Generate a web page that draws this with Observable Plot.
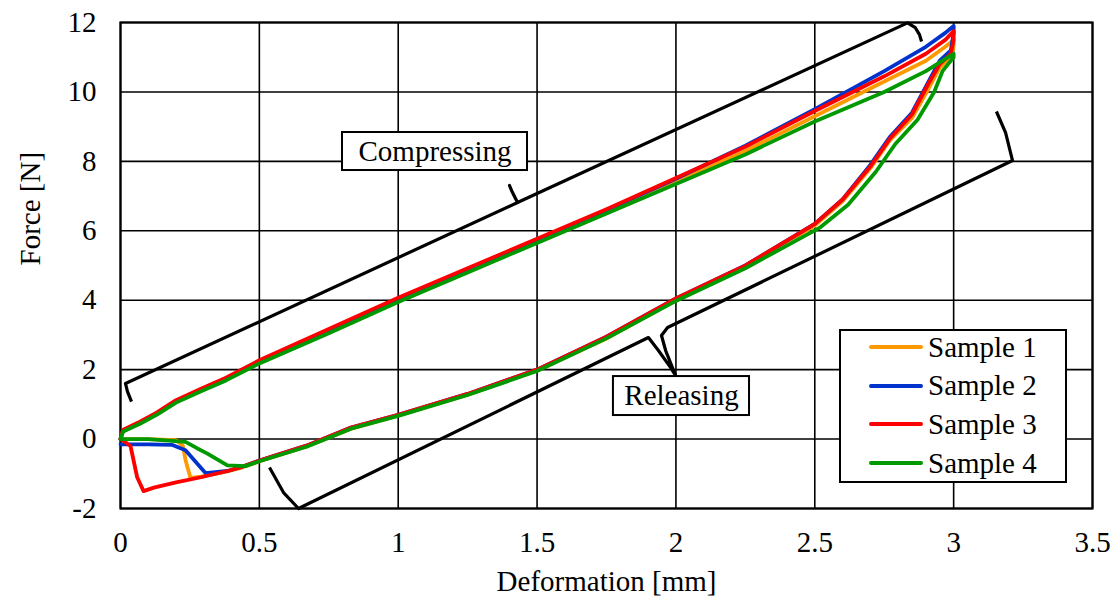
<!DOCTYPE html>
<html>
<head>
<meta charset="utf-8">
<script src="https://cdn.jsdelivr.net/npm/d3@7"></script>
<script src="https://cdn.jsdelivr.net/npm/@observablehq/plot@0.6"></script>
<style>
  html, body { margin: 0; padding: 0; background: #fff; }
  #wrap { position: relative; width: 1115px; height: 602px; font-family: "Liberation Serif", "Times New Roman", serif; }
  #legend { position: absolute; left: 839px; top: 329px; width: 224px; height: 150px; border: 2px solid #000; background: #fff; }
  .row { position: absolute; left: 0; height: 38px; display: flex; align-items: center; font-size: 29px; color: #000; }
  .sw { width: 54px; height: 4px; border-radius: 2px; margin-left: 28px; margin-right: 5px; }
</style>
</head>
<body>
<div id="wrap"></div>
<script>
// ---- Data ----
const seriesNames = ["Sample 1", "Sample 2", "Sample 3", "Sample 4"];
const seriesColors = ["#FF9900", "#0033CC", "#FF0000", "#009900"];

// Compressing branch (loading)
const s1CompX = [0, 0.005, 0.01, 0.07, 0.13, 0.2, 0.29, 0.38, 0.5, 0.75, 1.0, 1.25, 1.5, 1.75, 2.0, 2.25, 2.5, 2.75, 2.9, 2.97, 3.0];
const s1CompY = [0, 0.15, 0.25, 0.46, 0.72, 1.07, 1.4, 1.72, 2.22, 3.1, 4.0, 4.85, 5.7, 6.55, 7.42, 8.3, 9.3, 10.3, 10.9, 11.3, 11.5];
const s2CompX = [0, 0.005, 0.01, 0.07, 0.13, 0.2, 0.29, 0.38, 0.5, 0.75, 1.0, 1.25, 1.5, 1.75, 2.0, 2.25, 2.5, 2.75, 2.9, 2.97, 3.0];
const s2CompY = [0, 0.15, 0.25, 0.48, 0.74, 1.1, 1.43, 1.75, 2.25, 3.15, 4.05, 4.9, 5.75, 6.6, 7.5, 8.45, 9.5, 10.6, 11.3, 11.7, 11.9];
const s3CompX = [0, 0.005, 0.01, 0.07, 0.13, 0.2, 0.29, 0.38, 0.5, 0.75, 1.0, 1.25, 1.5, 1.75, 2.0, 2.25, 2.5, 2.75, 2.9, 2.97, 3.0];
const s3CompY = [0, 0.15, 0.27, 0.5, 0.76, 1.12, 1.45, 1.77, 2.27, 3.17, 4.07, 4.92, 5.77, 6.62, 7.52, 8.42, 9.45, 10.45, 11.1, 11.5, 11.75];
const s4CompX = [0, 0.005, 0.01, 0.07, 0.13, 0.2, 0.29, 0.38, 0.5, 0.75, 1.0, 1.25, 1.5, 1.75, 2.0, 2.25, 2.5, 2.75, 2.9, 2.97, 3.0];
const s4CompY = [0, 0.12, 0.22, 0.44, 0.7, 1.05, 1.38, 1.69, 2.18, 3.05, 3.95, 4.8, 5.65, 6.5, 7.35, 8.2, 9.15, 10.0, 10.6, 10.95, 11.1];

// Releasing branch (unloading)
const s1RelX = [3.0, 2.99, 2.95, 2.91, 2.85, 2.77, 2.7, 2.6, 2.5, 2.25, 2.0, 1.75, 1.5, 1.25, 1.0, 0.83, 0.67, 0.5, 0.43, 0.385, 0.29, 0.252, 0.234, 0.225, 0.2, 0.1, 0.0];
const s1RelY = [11.3, 11.0, 10.7, 10.1, 9.25, 8.6, 7.8, 6.85, 6.15, 4.95, 4.0, 2.9, 1.98, 1.28, 0.68, 0.3, -0.21, -0.64, -0.84, -0.93, -1.08, -1.12, -0.6, -0.2, -0.03, 0.0, 0.0];
const s2RelX = [3.0, 2.99, 2.95, 2.91, 2.85, 2.77, 2.7, 2.6, 2.5, 2.25, 2.0, 1.75, 1.5, 1.25, 1.0, 0.83, 0.67, 0.5, 0.43, 0.385, 0.306, 0.234, 0.187, 0.1, 0.0];
const s2RelY = [11.7, 11.2, 10.9, 10.3, 9.4, 8.7, 7.9, 6.9, 6.2, 5.0, 4.05, 2.95, 2.0, 1.3, 0.7, 0.33, -0.19, -0.62, -0.82, -0.92, -0.98, -0.32, -0.17, -0.15, -0.15];
const s3RelX = [3.0, 2.99, 2.95, 2.91, 2.85, 2.77, 2.7, 2.6, 2.5, 2.25, 2.0, 1.75, 1.5, 1.25, 1.0, 0.83, 0.67, 0.5, 0.43, 0.385, 0.29, 0.2, 0.12, 0.083, 0.06, 0.036, 0.01, 0.0];
const s3RelY = [11.5, 11.1, 10.8, 10.25, 9.35, 8.65, 7.85, 6.9, 6.2, 5.0, 4.05, 2.95, 2.0, 1.3, 0.7, 0.33, -0.19, -0.62, -0.82, -0.92, -1.1, -1.25, -1.4, -1.5, -1.1, -0.2, -0.05, 0.0];
const s4RelX = [3.0, 2.99, 2.96, 2.93, 2.87, 2.79, 2.72, 2.62, 2.52, 2.25, 2.0, 1.75, 1.5, 1.25, 1.0, 0.83, 0.67, 0.5, 0.45, 0.385, 0.313, 0.277, 0.234, 0.1, 0.0];
const s4RelY = [11.0, 10.9, 10.6, 10.0, 9.2, 8.5, 7.7, 6.75, 6.1, 4.92, 3.98, 2.9, 1.96, 1.27, 0.67, 0.3, -0.22, -0.64, -0.78, -0.76, -0.42, -0.27, -0.08, 0.0, 0.0];

// Axis ticks
const xTicks = [0, 0.5, 1, 1.5, 2, 2.5, 3, 3.5];
const yTicks = [-2, 0, 2, 4, 6, 8, 10, 12];

// Brace annotations (data coordinates)
const braceCompX = [0.0396, 0.0252, 0.018, 1.4296, 1.4116, 1.4008, 1.4116, 1.4296, 2.834, 2.862, 2.877, 2.8844];
const braceCompY = [1.081, 1.369, 1.6, 6.814, 7.102, 7.304, 7.102, 6.814, 11.99, 11.85, 11.65, 11.453];
const braceRelX = [0.5365, 0.587, 0.641, 1.901, 1.937, 1.981, 1.999, 1.963, 1.948, 1.97, 3.212, 3.187, 3.154];
const braceRelY = [-0.82, -1.54, -2.0, 2.925, 2.55, 2.06, 1.83, 2.55, 2.982, 3.213, 8.024, 8.83, 9.436];

// Text boxes
const boxLabels = ["Compressing", "Releasing"];
const boxX1 = [0.7994, 1.775];
const boxX2 = [1.4656, 2.265];
const boxY1 = [7.736, 0.678];
const boxY2 = [8.831, 1.801];

// ---- Build tables ----
function pts(xs, ys, name, i) { return xs.map((x, k) => ({x, y: ys[k], name, order: i})); }
const loops = [
  [s1CompX, s1CompY, s1RelX, s1RelY],
  [s2CompX, s2CompY, s2RelX, s2RelY],
  [s3CompX, s3CompY, s3RelX, s3RelY],
  [s4CompX, s4CompY, s4RelX, s4RelY]
].map(([cx, cy, rx, ry], i) => pts(cx, cy, seriesNames[i], i).concat(pts(rx, ry, seriesNames[i], i)));

const braces = [pts(braceCompX, braceCompY, "c", 0), pts(braceRelX, braceRelY, "r", 1)];
const boxes = boxLabels.map((t, i) => ({t, x1: boxX1[i], x2: boxX2[i], y1: boxY1[i], y2: boxY2[i], cx: (boxX1[i] + boxX2[i]) / 2, cy: (boxY1[i] + boxY2[i]) / 2}));

const font = "'Liberation Serif', 'Times New Roman', serif";
const fs = 29;
const chart = Plot.plot({
  width: 1115,
  height: 602,
  marginLeft: 120,
  marginRight: 23,
  marginTop: 22,
  marginBottom: 94,
  style: {fontFamily: font, fontSize: fs + "px", color: "#000", background: "#fff", overflow: "visible"},
  x: {domain: [0, 3.5]},
  y: {domain: [-2, 12]},
  marks: [
    Plot.gridX(xTicks, {stroke: "#000", strokeOpacity: 1, strokeWidth: 1.6}),
    Plot.gridY(yTicks, {stroke: "#000", strokeOpacity: 1, strokeWidth: 1.6}),
    Plot.frame({stroke: "#000", strokeWidth: 2.2}),
    ...braces.map(b => Plot.line(b, {x: "x", y: "y", stroke: "#000", strokeWidth: 3.2, strokeLinejoin: "round", strokeLinecap: "butt", curve: "linear"})),
    Plot.rect(boxes, {x1: "x1", x2: "x2", y1: "y1", y2: "y2", fill: "#fff", stroke: "#000", strokeWidth: 2}),
    Plot.text(boxes, {x: "cx", y: "cy", text: "t", fontSize: fs, fill: "#000"}),
    ...loops.map((l, i) => Plot.line(l, {x: "x", y: "y", stroke: seriesColors[i], strokeWidth: 3.8, strokeLinejoin: "round"})),
    Plot.axisX(xTicks, {tickSize: 0, tickPadding: 23, tickFormat: d => String(d), fontSize: fs, label: null}),
    Plot.axisY(yTicks, {tickSize: 0, tickPadding: 24, tickFormat: d => String(d), fontSize: fs, label: null}),
    Plot.text(["Deformation [mm]"], {frameAnchor: "bottom", dy: 82, text: d => d, fontSize: fs, fill: "#000"}),
    Plot.text(["Force [N]"], {frameAnchor: "left", dx: -90, rotate: -90, text: d => d, fontSize: fs, fill: "#000"})
  ]
});
const wrap = document.getElementById("wrap");
wrap.appendChild(chart);

// Legend
const legend = document.createElement("div");
legend.id = "legend";
seriesNames.forEach((n, i) => {
  const row = document.createElement("div");
  row.className = "row";
  row.style.top = (i * 38.7 - 3) + "px";
  const sw = document.createElement("div");
  sw.className = "sw";
  sw.style.background = seriesColors[i];
  const t = document.createElement("span");
  t.textContent = n;
  row.appendChild(sw);
  row.appendChild(t);
  legend.appendChild(row);
});
wrap.appendChild(legend);
</script>
</body>
</html>
